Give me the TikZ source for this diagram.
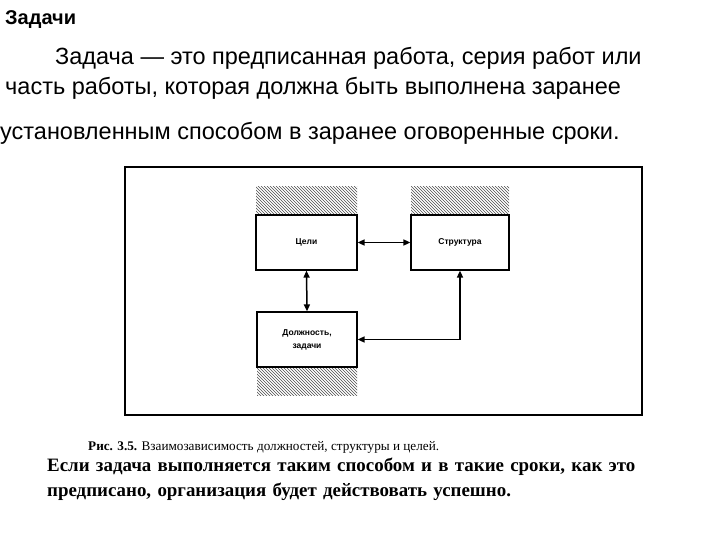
\documentclass[tikz,border=0pt]{standalone}
\usepackage{fontspec}
\setmainfont{Liberation Sans}
\newfontfamily\serifx{Liberation Serif}
\usetikzlibrary{patterns,arrows.meta}
\begin{document}
\begin{tikzpicture}[x=1pt,y=-1pt,
  box/.style={draw,line width=1.2pt,minimum width=101pt,minimum height=55pt,font=\bfseries\fontsize{8.5}{11}\selectfont,align=center},
  hatch/.style={pattern=north west lines,pattern color=black!70},
  conn/.style={line width=1.5pt,{Triangle[length=7pt,width=6pt]}-{Triangle[length=7pt,width=6pt]}}]
\useasboundingbox (0,0) rectangle (720,540);
\node[anchor=west,inner sep=0pt,font=\bfseries\fontsize{20}{24}\selectfont] (title) at (5,20) {Задачи};
\node[anchor=west,inner sep=0pt,font=\fontsize{23.5}{26}\selectfont] (l1) at (55,58) {Задача — это предписанная работа, серия работ или};
\node[anchor=west,inner sep=0pt,font=\fontsize{23.5}{26}\selectfont] (l2) at (5,88) {часть работы, которая должна быть выполнена заранее};
\node[anchor=west,inner sep=0pt,font=\fontsize{23.5}{26}\selectfont] (l3) at (0,133) {установленным способом в заранее оговоренные сроки.};
\draw[line width=1.3pt] (125,167) rectangle (642,415);
\fill[hatch] (256,187) rectangle (357,215);
\fill[hatch] (411,187) rectangle (509,215);
\fill[hatch] (257,367) rectangle (357,395);
\node[box,minimum width=101pt] (c) at (306.5,242.5) {Цели};
\node[box,minimum width=98pt] (s) at (460,242.5) {Структура};
\node[box,minimum width=100pt] (d) at (307,339.5) {Должность,\\[2pt]задачи};
\draw[conn] (c) -- (s);
\draw[conn] (c.south) -- (d.north);
\draw[conn] (s.south) |- (d.east);
\node[anchor=west,inner sep=0pt,font=\serifx\fontsize{13.2}{15}\selectfont] (cap) at (88,447) {\textbf{Рис. 3.5.} Взаимозависимость должностей, структуры и целей.};
\node[anchor=north west,inner sep=0pt,font=\serifx\bfseries\fontsize{18.9}{25}\selectfont,text width=635pt] (txt) at (47,458) {Если задача выполняется таким способом и в такие сроки, как это предписано, организация будет действовать успешно.};
\end{tikzpicture}
\end{document}
